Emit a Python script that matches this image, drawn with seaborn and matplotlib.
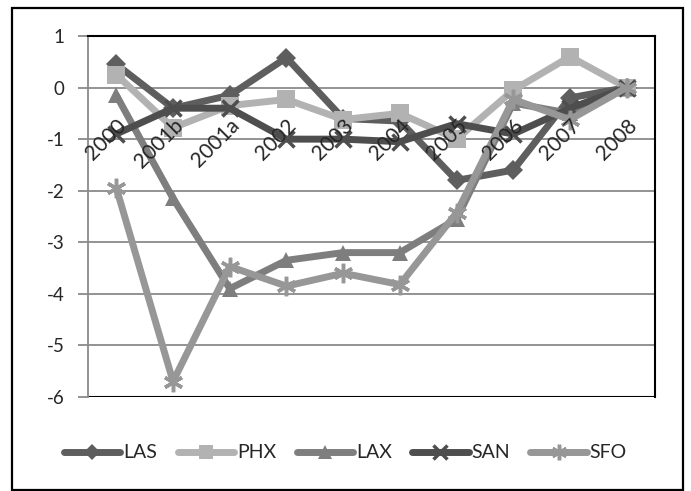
import matplotlib
matplotlib.use("Agg")
import matplotlib.pyplot as plt
import seaborn as sns
import pandas as pd
from matplotlib.patches import Rectangle
from matplotlib.ticker import FixedLocator, NullFormatter

categories = ["2000", "2001b", "2001a", "2002", "2003", "2004", "2005", "2006", "2007", "2008"]
LAS = [0.45, -0.4, -0.15, 0.58, -0.6, -0.65, -1.8, -1.6, -0.2, 0.0]
PHX = [0.25, -0.78, -0.35, -0.23, -0.62, -0.5, -1.0, -0.05, 0.6, 0.0]
LAX = [-0.15, -2.15, -3.9, -3.35, -3.2, -3.2, -2.55, -0.3, -0.5, 0.0]
SAN = [-0.9, -0.4, -0.4, -1.0, -1.0, -1.05, -0.7, -0.9, -0.4, 0.0]
SFO = [-1.95, -5.7, -3.47, -3.85, -3.6, -3.82, -2.43, -0.23, -0.62, 0.0]
yticks = [1, 0, -1, -2, -3, -4, -5, -6]

series = {"LAS": LAS, "PHX": PHX, "LAX": LAX, "SAN": SAN, "SFO": SFO}
colors = {"LAS": "#5e5e5e", "PHX": "#b2b2b2", "LAX": "#7e7e7e", "SAN": "#4e4e4e", "SFO": "#979797"}
markers = {"LAS": "D", "PHX": "s", "LAX": "^", "SAN": "x", "SFO": (6, 2, 0)}
msizes = {"LAS": 10, "PHX": 13, "LAX": 12, "SAN": 12, "SFO": 14}

rows = []
for name, vals in series.items():
    for i, v in enumerate(vals):
        rows.append({"pos": i, "cat": categories[i], "value": v, "series": name})
df = pd.DataFrame(rows)

sns.set_style("white")
plt.rcParams["font.family"] = ["Lato", "DejaVu Sans"]

fig = plt.figure(figsize=(6.91, 4.91), dpi=100)
ax = fig.add_axes([88 / 691, 1 - 397 / 491, (655 - 88) / 691, (397 - 36) / 491])

for name in series:
    sub = df[df["series"] == name]
    sns.lineplot(data=sub, x="pos", y="value", ax=ax, color=colors[name], lw=5,
                 marker=markers[name], markersize=msizes[name],
                 markeredgewidth=2.5 if name in ("SAN", "SFO") else 0,
                 markeredgecolor=colors[name], label=name, sort=False, zorder=3)

n = len(categories)
ax.set_xlim(-0.5, n - 0.5)
ax.set_ylim(-6, 1)
ax.set_yticks(yticks)
ax.set_yticklabels([str(t) for t in yticks], fontsize=13.5)
ax.set_xlabel("")
ax.set_ylabel("")

# x axis at zero
ax.spines["bottom"].set_position(("data", 0))
ax.spines["bottom"].set_color("#8a8a8a")
ax.spines["bottom"].set_linewidth(1.3)
ax.spines["bottom"].set_zorder(2)
ax.xaxis.set_major_locator(FixedLocator([i - 0.5 for i in range(n + 1)]))
ax.xaxis.set_major_formatter(NullFormatter())
ax.set_xticks(list(range(n)), minor=True)
ax.set_xticklabels(categories, minor=True, rotation=45, ha="right", va="top",
                   rotation_mode="anchor", fontsize=15)
ax.tick_params(axis="x", which="major", direction="in", length=6, color="#8a8a8a", width=1.3)
ax.tick_params(axis="x", which="minor", length=0, pad=20)
ax.xaxis.set_zorder(5)

ax.spines["left"].set_color("#8a8a8a")
ax.spines["left"].set_linewidth(1.3)
ax.tick_params(axis="y", which="major", direction="out", length=7, color="#8a8a8a", width=1.3, pad=10, left=True)
ax.spines["top"].set_color("black")
ax.spines["top"].set_linewidth(1.5)
ax.spines["right"].set_color("black")
ax.spines["right"].set_linewidth(1.5)

for t in [-1, -2, -3, -4, -5]:
    ax.axhline(t, color="#8a8a8a", lw=1.3, zorder=1)
ax.axhline(-6, color="black", lw=1.5, zorder=2)
ax.grid(False)

handles, labels = ax.get_legend_handles_labels()
ax.legend_.remove()
leg = fig.legend(handles, labels, loc="center", bbox_to_anchor=(0.5, 1 - 453 / 491), ncol=5,
                 frameon=False, fontsize=14, handlelength=2.9, columnspacing=1.05, handletextpad=0.15)
for h in leg.legend_handles:
    h.set_markersize(h.get_markersize() * 0.8)

fig.patches.append(Rectangle((12 / 691, 1 - 490 / 491), (683 - 12) / 691, (490 - 8) / 491,
                             transform=fig.transFigure, fill=False, edgecolor="black", lw=1.6))

fig.savefig("out.png", dpi=100)
